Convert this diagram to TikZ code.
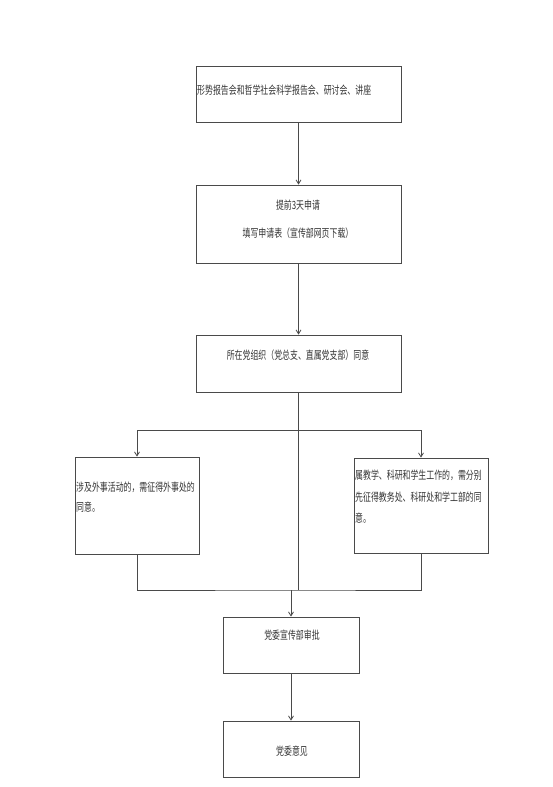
\documentclass[tikz,border=0pt]{standalone}
\usepackage{fontspec}
\newfontfamily\cjk[FakeStretch=0.7]{Noto Sans CJK SC}
\usetikzlibrary{arrows.meta}
\definecolor{ln}{HTML}{4A4A4A}
\definecolor{tx}{HTML}{333333}
\begin{document}
\begin{tikzpicture}[x=1pt,y=-1pt,
  box/.style={draw=ln,line width=0.8pt,inner sep=0pt,minimum width=#1},
  lbl/.style={inner sep=0pt,font=\cjk\fontsize{11.3}{20}\selectfont,text=tx},
  conn/.style={draw=ln,line width=0.8pt},
  arr/.style={conn,-{Straight Barb[length=4pt,width=5pt]}}]
\useasboundingbox[fill=white] (0,0) rectangle (553,787);
% boxes
\node[box=205pt,minimum height=56pt] (b1) at (298.5,94) {};
\node[box=205pt,minimum height=78pt] (b2) at (298.5,224) {};
\node[box=205pt,minimum height=57pt] (b3) at (298.5,363.5) {};
\node[box=124pt,minimum height=97pt] (lb) at (137,505.5) {};
\node[box=134pt,minimum height=95pt] (rb) at (421,505.5) {};
\node[box=136pt,minimum height=56pt] (b4) at (291,645) {};
\node[box=136pt,minimum height=56pt] (b5) at (291,749) {};
% texts
\node[lbl,anchor=west] (t1) at (197,90) {形势报告会和哲学社会科学报告会、研讨会、讲座};
\node[lbl] (t2a) at (298,205) {提前3天申请};
\node[lbl] (t2b) at (298,233) {填写申请表（宣传部网页下载）};
\node[lbl] (t3) at (298,355) {所在党组织（党总支、直属党支部）同意};
\node[lbl,anchor=west,align=left] (tl) at (76,497) {涉及外事活动的，需征得外事处的\\同意。};
\node[lbl,anchor=west,align=left,font=\cjk\fontsize{11.3}{21.5}\selectfont] (tr) at (355,497) {属教学、科研和学生工作的，需分别\\先征得教务处、科研处和学工部的同\\意。};
\node[lbl] (t4) at (292,635) {党委宣传部审批};
\node[lbl] (t5) at (292,751) {党委意见};
% connectors
\coordinate (split) at (298.5,430);
\coordinate (mid) at (298.5,590);
\coordinate (join) at (291,590);
\draw[arr] (b1) -- (b2);
\draw[arr] (b2) -- (b3);
\draw[conn] (b3.south) -- (mid);
\draw[arr] (split) -| (lb.north);
\draw[arr] (split) -| (rb.north);
\draw[conn] (lb.south) |- (join) -| (rb.south);
\draw[arr] (join) -- (b4);
\draw[arr] (b4) -- (b5);
\end{tikzpicture}
\end{document}
